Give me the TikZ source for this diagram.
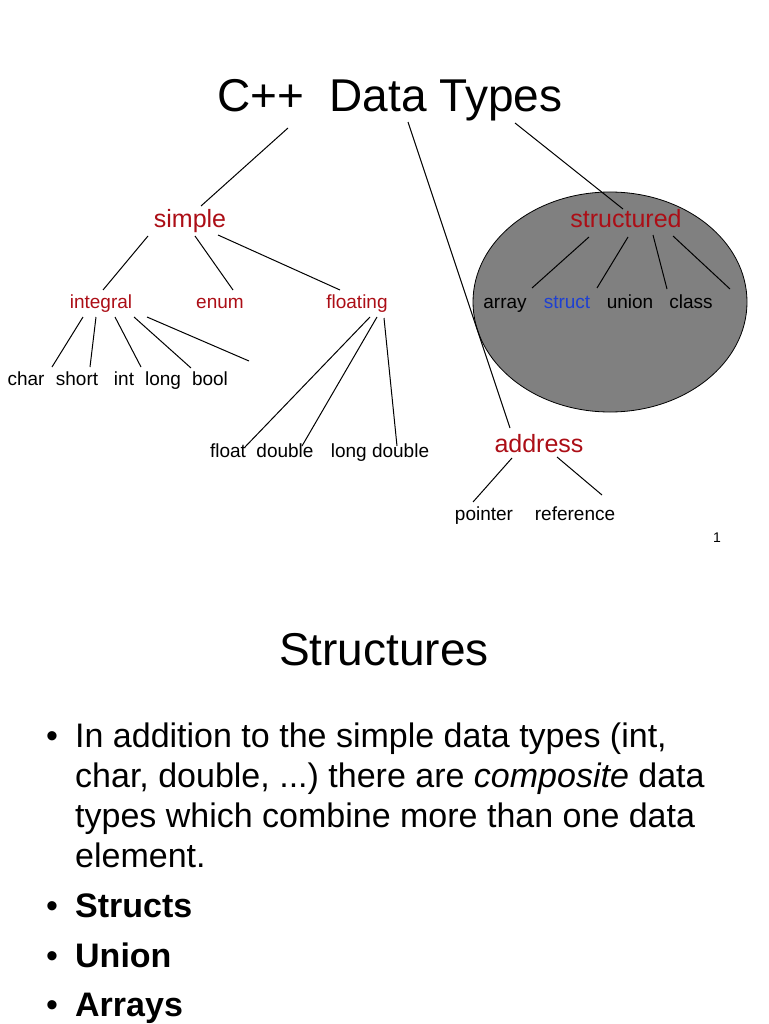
\documentclass[tikz,border=0pt]{standalone}
\usepackage{fontspec}
\setmainfont{Liberation Sans}
\frenchspacing
\definecolor{tred}{RGB}{172,14,22}
\definecolor{tblue}{RGB}{30,64,210}
\definecolor{ovalgray}{RGB}{128,128,128}
\begin{document}
\begin{tikzpicture}[x=1pt,y=-1pt,
  lbl/.style={anchor=base,inner sep=0pt,font=\fontsize{19}{22}\selectfont},
  cat/.style={anchor=base,inner sep=0pt,text=tred,font=\fontsize{25}{30}\selectfont},
  sub/.style={anchor=base,inner sep=0pt,text=tred,font=\fontsize{19}{22}\selectfont},
  edge/.style={line width=1pt,black},
  body/.style={anchor=base west,inner sep=0pt,font=\fontsize{34}{40}\selectfont},
  bodyb/.style={anchor=base west,inner sep=0pt,font=\fontsize{34}{40}\selectfont\bfseries},
  dot/.style={anchor=base,inner sep=0pt,font=\fontsize{34}{40}\selectfont}]
\useasboundingbox (0,0) rectangle (768,1024);
\fill[white] (0,0) rectangle (768,1024);
% oval
\draw[fill=ovalgray,line width=0.8pt] (610,302) ellipse [x radius=137, y radius=110];
% title
\node[anchor=base,inner sep=0pt,font=\fontsize{46}{52}\selectfont] (title) at (390,112) {C++\hspace{0.55em}Data Types};
% categories
\node[cat] (simple) at (190,227) {simple};
\node[cat] (structured) at (626,227) {structured};
\node[cat] (address) at (539,452) {address};
% simple children
\node[sub] (integral) at (101,308) {integral};
\node[sub] (enum) at (220,308) {enum};
\node[sub] (floating) at (357,308) {floating};
% integral children
\node[lbl] (char) at (26,385) {char};
\node[lbl] (short) at (77,385) {short};
\node[lbl] (int) at (124,385) {int};
\node[lbl] (long) at (163,385) {long};
\node[lbl] (bool) at (210,385) {bool};
% floating children
\node[lbl] (float) at (228,457) {float};
\node[lbl] (double) at (285,457) {double};
\node[lbl] (longdouble) at (380,457) {long double};
% structured children
\node[lbl] (array) at (505,308) {array};
\node[lbl,text=tblue] (struct) at (567,308) {struct};
\node[lbl] (union) at (630,308) {union};
\node[lbl] (class) at (691,308) {class};
% address children
\node[lbl] (pointer) at (484,520) {pointer};
\node[lbl] (reference) at (575,520) {reference};
\node[anchor=base,inner sep=0pt,font=\fontsize{14}{16}\selectfont] (pagenum) at (717,542) {1};
% connector end points
\coordinate (t1) at (288,128); \coordinate (s1) at (201,206);
\coordinate (t2) at (408,122); \coordinate (a1) at (510,428);
\coordinate (t3) at (515,123); \coordinate (st1) at (623,209);
\coordinate (si1) at (148,236); \coordinate (ig1) at (103,290);
\coordinate (si2) at (195,236); \coordinate (en1) at (233,290);
\coordinate (si3) at (218,235); \coordinate (fl1) at (340,290);
\coordinate (ig2) at (83,317); \coordinate (ch1) at (52,367);
\coordinate (ig3) at (96,317); \coordinate (sh1) at (90,367);
\coordinate (ig4) at (115,317); \coordinate (in1) at (141,367);
\coordinate (ig5) at (134,317); \coordinate (lo1) at (191,368);
\coordinate (ig6) at (147,317); \coordinate (free1) at (249,361);
\coordinate (fl2) at (370,317); \coordinate (fo1) at (245,447);
\coordinate (fl3) at (377,317); \coordinate (do1) at (302,446);
\coordinate (fl4) at (384,318); \coordinate (ld1) at (397,446);
\coordinate (st2) at (589,237); \coordinate (ar1) at (532,288);
\coordinate (st3) at (628,237); \coordinate (su1) at (597,288);
\coordinate (st4) at (653,235); \coordinate (un1) at (667,289);
\coordinate (st5) at (673,236); \coordinate (free2) at (730,289);
\coordinate (ad1) at (512,458); \coordinate (po1) at (473,502);
\coordinate (ad2) at (557,457); \coordinate (re1) at (602,495);
\draw[edge] (t1) -- (s1);
\draw[edge] (t2) -- (a1);
\draw[edge] (t3) -- (st1);
\draw[edge] (si1) -- (ig1);
\draw[edge] (si2) -- (en1);
\draw[edge] (si3) -- (fl1);
\draw[edge] (ig2) -- (ch1);
\draw[edge] (ig3) -- (sh1);
\draw[edge] (ig4) -- (in1);
\draw[edge] (ig5) -- (lo1);
\draw[edge] (ig6) -- (free1);
\draw[edge] (fl2) -- (fo1);
\draw[edge] (fl3) -- (do1);
\draw[edge] (fl4) -- (ld1);
\draw[edge] (st2) -- (ar1);
\draw[edge] (st3) -- (su1);
\draw[edge] (st4) -- (un1);
\draw[edge] (st5) -- (free2);
\draw[edge] (ad1) -- (po1);
\draw[edge] (ad2) -- (re1);
% second part
\node[anchor=base,inner sep=0pt,font=\fontsize{46}{52}\selectfont] (heading) at (384,665) {Structures};
\node[dot] (b1) at (52,747) {•};
\node[body] (l1) at (75,747) {In addition to the simple data types (int,};
\node[body] (l2) at (75,787) {char, double, ...) there are \textit{composite} data};
\node[body] (l3) at (75,827) {types which combine more than one data};
\node[body] (l4) at (75,867) {element.};
\node[dot] (b2) at (52,917) {•};
\node[bodyb] (l5) at (75,917) {Structs};
\node[dot] (b3) at (52,967) {•};
\node[bodyb] (l6) at (75,967) {Union};
\node[dot] (b4) at (52,1016) {•};
\node[bodyb] (l7) at (75,1016) {Arrays};
\end{tikzpicture}
\end{document}
